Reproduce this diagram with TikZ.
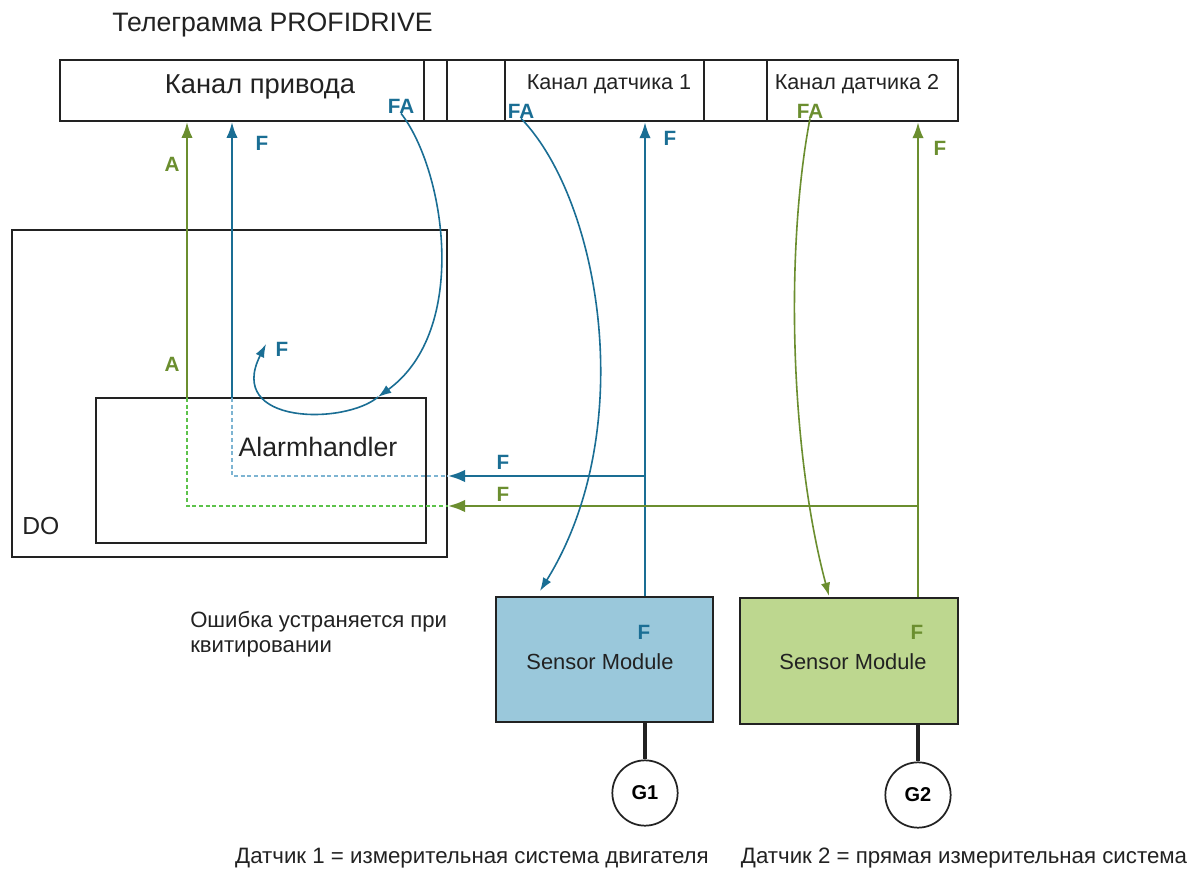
\documentclass[tikz,border=0pt]{standalone}
\usepackage{fontspec}
\setmainfont{Liberation Sans}
\usetikzlibrary{arrows.meta,fit,calc}
\definecolor{cblue}{HTML}{1A6E94}
\definecolor{cgreen}{HTML}{6B8E2F}
\definecolor{lblue}{HTML}{7DB4D2}
\definecolor{lgreen}{HTML}{5CC24A}
\definecolor{fblue}{HTML}{9AC8DB}
\definecolor{fgreen}{HTML}{BDD78F}
\definecolor{cdark}{HTML}{222222}
\tikzset{
  box/.style={draw=cdark, line width=1.3pt, inner sep=0pt},
  lbl/.style={font=\fontsize{15.5}{17}\selectfont\bfseries, inner sep=0pt},
  txt/.style={inner sep=0pt, text=cdark},
  bluearrow/.style={cblue, line width=1.9pt, -{Latex[length=12pt,width=8.5pt]}},
  greenarrow/.style={cgreen, line width=1.9pt, -{Latex[length=12pt,width=8.5pt]}},
  bluecurve/.style={cblue, line width=1.2pt, -{Latex[length=10pt,width=7pt]}},
  greencurve/.style={cgreen, line width=1.2pt, -{Latex[length=10pt,width=7pt]}},
  bluedash/.style={lblue, line width=1pt, dash pattern=on 3pt off 2pt},
  greendash/.style={lgreen, line width=1pt, dash pattern=on 3pt off 2pt},
  gcircle/.style={circle, draw=cdark, line width=1.3pt, minimum size=49pt, inner sep=0pt, font=\fontsize{15}{17}\selectfont\bfseries},
}
\begin{document}
\begin{tikzpicture}[x=0.75pt,y=-0.75pt]
\useasboundingbox[fill=white] (0,0) rectangle (1189,870);

% title
\node[txt, anchor=west, font=\fontsize{20}{23}\selectfont] (title) at (112,25) {Телеграмма PROFIDRIVE};

% telegram bar
\node[box, fit={(60,60)(424,121)}] (drive) {};
\node[box, line width=1.6pt, fit={(424,60)(447,121)}] (small) {};
\node[box, fit={(447,60)(505,121)}] (gap1) {};
\node[box, line width=1.6pt, fit={(505,60)(704,121)}] (enc1) {};
\node[box, fit={(704,60)(767,121)}] (gap2) {};
\node[box, line width=1.6pt, fit={(767,60)(958,121)}] (enc2) {};
\node[txt, font=\fontsize{20.5}{24}\selectfont] (drivetxt) at (260,87) {Канал привода};
\node[txt, font=\fontsize{16.2}{19}\selectfont] (enc1txt) at (609,84) {Канал датчика 1};
\node[txt, font=\fontsize{16.2}{19}\selectfont] (enc2txt) at (857,84) {Канал датчика 2};
\node[lbl, text=cblue] (fa0) at (401,106) {FA};
\node[lbl, text=cblue] (fa1) at (521,111) {FA};
\node[lbl, text=cgreen] (fa2) at (810,111) {FA};

% DO and Alarmhandler
\node[box, fit={(12,230)(447,557)}] (do) {};
\node[txt, font=\fontsize{18.5}{21}\selectfont, anchor=west] (dotxt) at (22,526) {DO};
\node[box, fit={(96,398)(426,543)}] (ah) {};
\node[txt, font=\fontsize{20}{23}\selectfont] (ahtxt) at (318,447) {Alarmhandler};

% sensor modules
\node[box, fill=fblue, fit={(496,597)(713,722)}] (sm1) {};
\node[box, fill=fgreen, fit={(740,598)(958,724)}] (sm2) {};
\node[txt, font=\fontsize{16.4}{19}\selectfont] (sm1txt) at (600,662) {Sensor Module};
\node[txt, font=\fontsize{16.4}{19}\selectfont] (sm2txt) at (853,662) {Sensor Module};
\node[lbl, text=cblue] (smf1) at (644,632) {F};
\node[lbl, text=cgreen] (smf2) at (917,632) {F};

% encoders
\node[gcircle] (g1) at (645,793) {G1};
\node[gcircle] (g2) at (918,795) {G2};
\draw[cdark, line width=2.3pt] (sm1.south -| g1) -- (g1.north);
\draw[cdark, line width=2.3pt] (sm2.south -| g2) -- (g2.north);

% junction coordinates
\coordinate (a1) at (187,398);
\coordinate (a2) at (187,506);
\coordinate (b1) at (232,398);
\coordinate (b2) at (232,476);
\coordinate (j1) at (645,476);
\coordinate (j2) at (918,506);

% dashed internal paths
\draw[greendash] (a1) -- (a2) -- (a2 -| do.east);
\draw[bluedash] (b1) -- (b2) -- (b2 -| do.east);

% vertical arrows into the telegram
\draw[greenarrow] (a1) -- (a1 |- drive.south);
\draw[bluearrow] (b1) -- (b1 |- drive.south);
\draw[bluearrow] (sm1.north -| j1) -- (j1 |- enc1.south);
\draw[greenarrow] (sm2.north -| j2) -- (j2 |- enc2.south);

% horizontal arrows into DO
\draw[bluearrow, -{Latex[length=13pt,width=9.5pt]}] (j1) -- (j1 -| do.east);
\draw[greenarrow, -{Latex[length=13pt,width=9.5pt]}] (j2) -- (j2 -| do.east);

% labels
\node[lbl, text=cgreen] (la1) at (172,164) {A};
\node[lbl, text=cgreen] (la2) at (172,364) {A};
\node[lbl, text=cblue] (lf1) at (262,143) {F};
\node[lbl, text=cblue] (lf2) at (670,138) {F};
\node[lbl, text=cgreen] (lf3) at (940,148) {F};
\node[lbl, text=cblue] (lf4) at (503,462) {F};
\node[lbl, text=cgreen] (lf5) at (503,494) {F};
\node[lbl, text=cblue] (lf6) at (282,349) {F};

% curved arrows
\coordinate (ahin) at (378,397);
\coordinate (fret) at (266,344);
\draw[bluecurve] (fa0.south) .. controls (445,170) and (470,330) .. (ahin);
\draw[bluecurve] (ahin) .. controls (345,425) and (225,425) .. (fret);
\coordinate (sm1in) at (540,591);
\coordinate (sm2in) at (829,596);
\draw[bluecurve] (fa1.south) .. controls (600,200) and (640,430) .. (sm1in);
\draw[greencurve] (fa2.south) .. controls (785,250) and (790,450) .. (sm2in);

% notes
\node[txt, anchor=north west, align=left, font=\fontsize{16.6}{19}\selectfont] (note) at (190,611) {Ошибка устраняется при\\квитировании};
\node[txt, font=\fontsize{16.7}{19}\selectfont] (foot1) at (472,858) {Датчик 1 = измерительная система двигателя};
\node[txt, font=\fontsize{16.7}{19}\selectfont] (foot2) at (964,858) {Датчик 2 = прямая измерительная система};
\end{tikzpicture}
\end{document}
